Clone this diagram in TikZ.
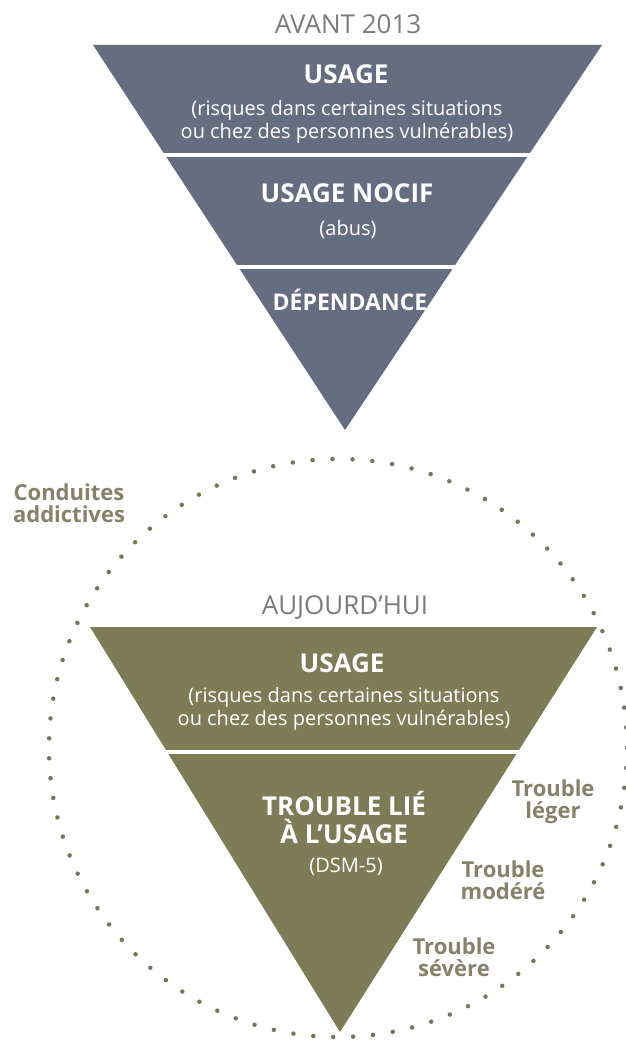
\documentclass[tikz,border=0pt]{standalone}
\usepackage{fontspec}
\setmainfont{Open Sans}
\usetikzlibrary{calc}
\definecolor{slate}{HTML}{656D80}
\definecolor{olive}{HTML}{7E7B57}
\definecolor{titlegray}{HTML}{7B7B7B}
\definecolor{labelolive}{HTML}{85826A}
\definecolor{dotolive}{HTML}{77745C}
\tikzset{
  yeartitle/.style={text=titlegray, font=\fontsize{26}{30}\selectfont},
  levelhead/.style={text=white, font=\bfseries\fontsize{26}{28}\selectfont, align=center},
  levelnote/.style={text=white, font=\fontsize{20}{23}\selectfont, align=center},
  sidelabel/.style={text=labelolive, font=\bfseries\fontsize{22}{22}\selectfont, align=center},
  gapline/.style={white, line width=4pt, shorten <=-3pt, shorten >=-3pt},
}

\begin{document}
\begin{tikzpicture}[x=1pt,y=-1pt]
\useasboundingbox (0,0) rectangle (625,1040);

\coordinate (A1) at (93,45);
\coordinate (B1) at (602,45);
\coordinate (C1) at (345,430);
\coordinate (A2) at (90,627);
\coordinate (B2) at (597,627);
\coordinate (C2) at (340,1032);

\draw[dotolive, line width=4.5pt, line cap=round, dash pattern=on 0pt off 19.95pt] (338,748) circle (289);

\fill[slate] (A1)--(B1)--(C1)--cycle;
\draw[gapline] ($(A1)!0.2857!(C1)$) -- ($(B1)!0.2857!(C1)$);
\draw[gapline] ($(A1)!0.5766!(C1)$) -- ($(B1)!0.5766!(C1)$);

\fill[olive] (A2)--(B2)--(C2)--cycle;
\draw[gapline] ($(A2)!0.3086!(C2)$) -- ($(B2)!0.3086!(C2)$);

\node[yeartitle] (avant) at (348,24) {AVANT 2013};
\node[levelhead] (usage1) at (346,74) {USAGE};
\node[levelnote] (risk1) at (347,122) {(risques dans certaines situations\\ou chez des personnes vulnérables)};
\node[levelhead] (nocif) at (347,193) {USAGE NOCIF};
\node[levelnote] (abus) at (348,229) {(abus)};
\node[levelhead, font=\bfseries\fontsize{23}{28}\selectfont] (dependance) at (350,300) {DÉPENDANCE};

\node[yeartitle] (today) at (345,608) {AUJOURD’HUI};
\node[levelhead] (usage2) at (342,663) {USAGE};
\node[levelnote] (risk2) at (344,709) {(risques dans certaines situations\\ou chez des personnes vulnérables)};
\node[levelhead] (trouble) at (344,818) {TROUBLE LIÉ\\À L’USAGE};
\node[levelnote] (dsm) at (346,867) {(DSM-5)};

\node[sidelabel] (leger) at (553,802) {Trouble\\léger};
\node[sidelabel] (modere) at (503,880) {Trouble\\modéré};
\node[sidelabel] (severe) at (454,957) {Trouble\\sévère};
\node[sidelabel] (conduites) at (69,503) {Conduites\\addictives};

\end{tikzpicture}
\end{document}
